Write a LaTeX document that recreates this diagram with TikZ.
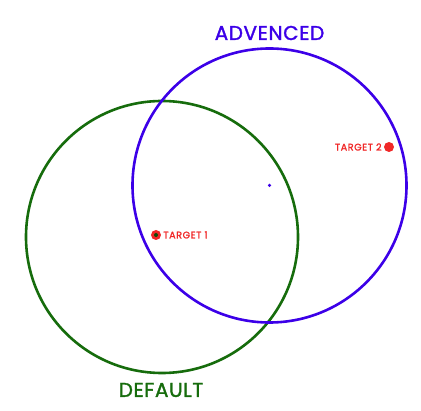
\documentclass[tikz,border=0pt]{standalone}
\usepackage{fontspec}
\setmainfont{Poppins}
\newfontfamily\labfont[LetterSpace=3,FakeBold=1.6]{Poppins}
\newfontfamily\tgtfont[LetterSpace=6,FakeBold=1.6]{Poppins}
\definecolor{dgreen}{RGB}{22,108,12}
\definecolor{vblue}{RGB}{60,0,232}
\definecolor{tred}{RGB}{240,40,40}
\begin{document}
\begin{tikzpicture}[x=1pt,y=-1pt,
  ring/.style={line width=2.6pt},
  dotr/.style={circle,fill=tred,inner sep=0pt,minimum size=10pt},
  tlabel/.style={text=tred,font=\tgtfont\fontsize{9.6}{10}\selectfont,inner sep=0pt},
  clabel/.style={font=\labfont\fontsize{20}{21}\selectfont,inner sep=0pt}]
\useasboundingbox (0,0) rectangle (421,411);
\coordinate (gc) at (162,237);
\coordinate (bc) at (269.5,185.5);
\draw[ring,dgreen] (gc) circle (136);
\draw[ring,vblue] (bc) circle (137);
\node[circle,fill=vblue,inner sep=0pt,minimum size=3.5pt] (bdot) at (bc) {};
\node[dotr] (t1) at (156,235) {};
\node[circle,fill=dgreen!70!black,inner sep=0pt,minimum size=4pt] (gdot) at (t1) {};
\node[tlabel,anchor=west] (t1l) at ([xshift=2pt]t1.east) {TARGET 1};
\node[dotr] (t2) at (389,147) {};
\node[tlabel,anchor=east] (t2l) at ([xshift=-2pt]t2.west) {TARGET 2};
\node[clabel,text=vblue] (adv) at (269.5,33) {ADVENCED};
\node[clabel,text=dgreen] (def) at (161,390) {DEFAULT};
\end{tikzpicture}
\end{document}
